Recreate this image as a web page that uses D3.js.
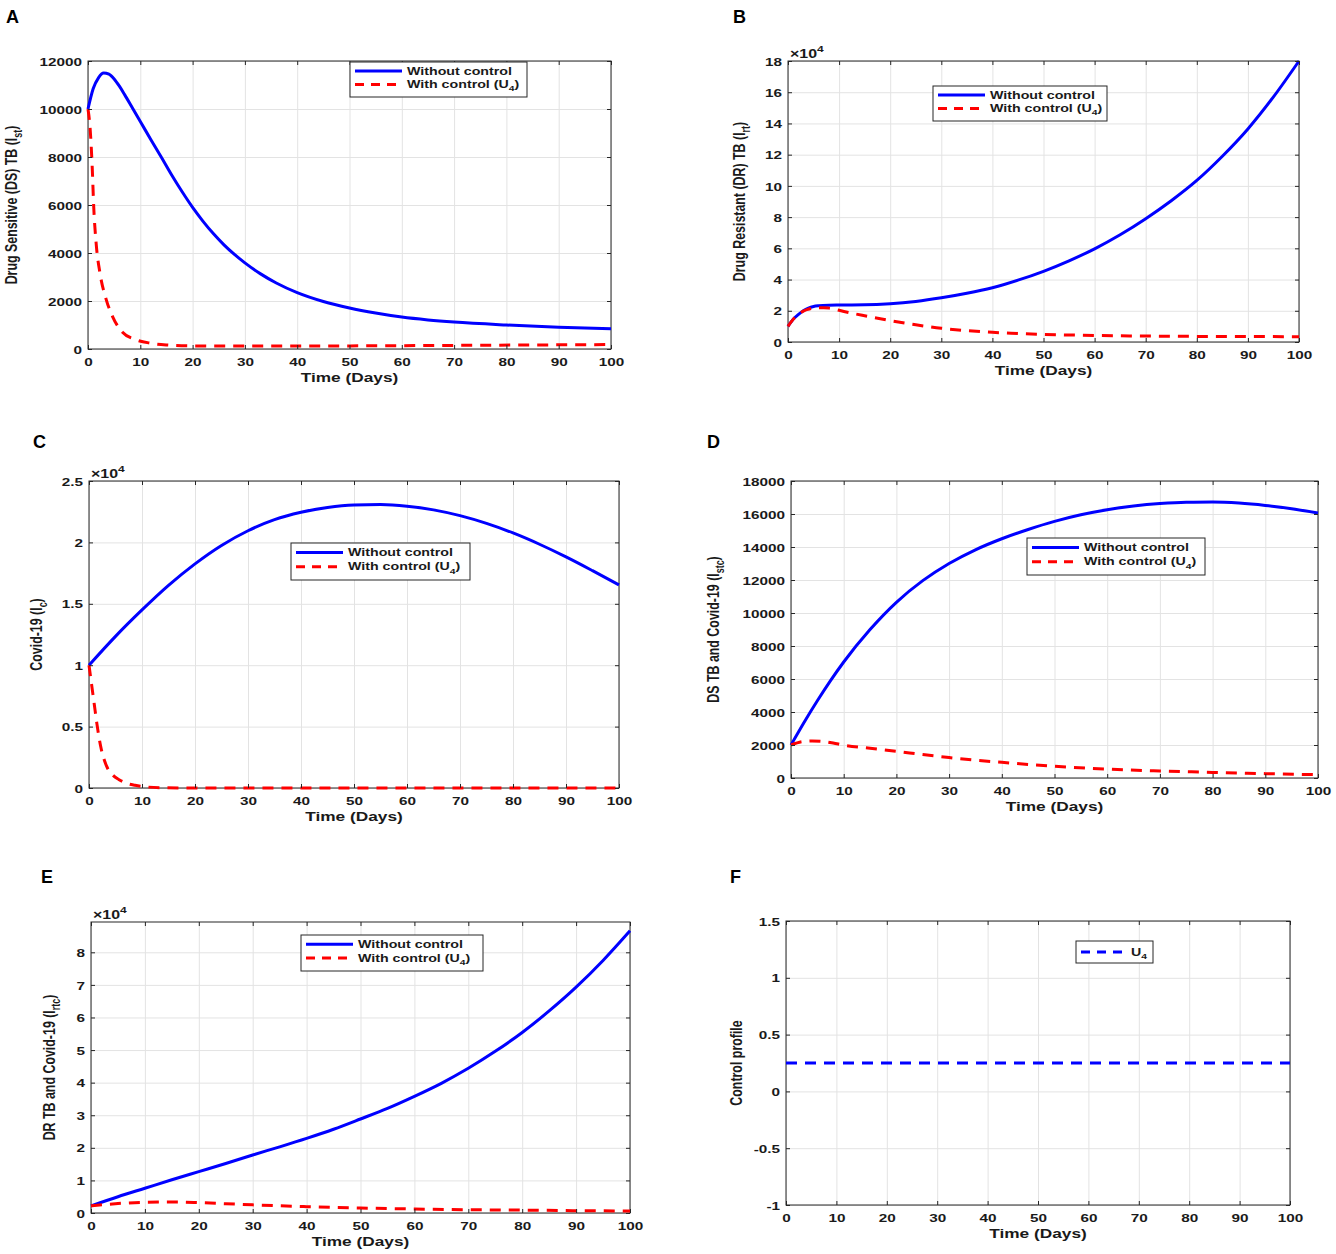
<!DOCTYPE html>
<html>
<head>
<meta charset="utf-8">
<script src="https://cdn.jsdelivr.net/npm/d3@7"></script>
<style>
  body { margin: 0; background: #fff; }
  text { font-family: "Liberation Sans", Arial, sans-serif; font-weight: bold; fill: #1a1a1a; }
</style>
</head>
<body>
<svg id="chart" width="1336" height="1254"></svg>
<script>
// time axis (days)
const dayTicks = [0, 10, 20, 30, 40, 50, 60, 70, 80, 90, 100];

// A: drug sensitive TB, I_st
const aTicks = [0, 2000, 4000, 6000, 8000, 10000, 12000];
const aWithout = [[0,10000],[1,10850],[2,11300],[3,11500],[4,11450],[5,11250],[6,10950],[7,10600],[8,10230],[9,9850],[10,9480],[12,8730],[14,8000],[16,7250],[18,6550],[20,5900],[22,5320],[24,4800],[26,4340],[28,3940],[30,3590],[33,3130],[36,2750],[40,2350],[45,1980],[50,1710],[55,1500],[60,1330],[65,1210],[70,1120],[80,1000],[90,910],[100,840]];
const aWith = [[0,10000],[0.4,9200],[0.8,7600],[1.1,5900],[1.6,4300],[2.3,3150],[3.5,2050],[4.7,1350],[6.6,700],[9,400],[12,240],[15,170],[20,130],[30,120],[50,130],[70,150],[100,185]];

// B: drug resistant TB, I_rt (x 10^4)
const bTicks = [0, 2, 4, 6, 8, 10, 12, 14, 16, 18];
const bWithout = [[0,1.0],[1,1.45],[2,1.75],[3,2.0],[4,2.17],[5,2.27],[6,2.32],[8,2.36],[10,2.37],[15,2.38],[20,2.45],[25,2.6],[30,2.83],[35,3.12],[40,3.48],[45,3.96],[50,4.53],[55,5.2],[60,5.97],[65,6.87],[70,7.9],[75,9.05],[80,10.35],[85,11.9],[90,13.65],[95,15.7],[100,18.0]];
const bWith = [[0,1.0],[1,1.45],[2,1.75],[3,1.98],[4,2.1],[5,2.18],[6,2.2],[7,2.2],[8,2.17],[10,2.03],[12,1.88],[15,1.68],[20,1.37],[25,1.1],[30,0.88],[35,0.73],[40,0.62],[45,0.55],[50,0.49],[60,0.42],[70,0.38],[80,0.36],[90,0.35],[100,0.34]];

// C: Covid-19, I_c (x 10^4)
const cTicks = [0, 0.5, 1, 1.5, 2, 2.5];
const cWithout = [[0,1.0],[5,1.235],[10,1.45],[15,1.65],[20,1.825],[25,1.975],[30,2.095],[35,2.185],[40,2.245],[45,2.285],[50,2.305],[55,2.308],[60,2.295],[65,2.265],[70,2.218],[75,2.155],[80,2.077],[85,1.985],[90,1.882],[95,1.77],[100,1.654]];
const cWith = [[0,1.0],[0.5,0.84],[1,0.68],[1.5,0.52],[2.2,0.34],[3.3,0.18],[4.5,0.105],[5.6,0.07],[7,0.04],[8.7,0.022],[11,0.008],[14,0.002],[20,0],[100,0]];

// D: DS TB and Covid-19, I_stc
const dTicks = [0, 2000, 4000, 6000, 8000, 10000, 12000, 14000, 16000, 18000];
const dWithout = [[0,2000],[2.5,3380],[5,4680],[7.5,5900],[10,7030],[15,9000],[20,10650],[25,11960],[30,13000],[35,13830],[40,14500],[45,15060],[50,15550],[55,15950],[60,16260],[65,16480],[70,16630],[75,16710],[80,16720],[85,16660],[90,16520],[95,16320],[100,16060]];
const dWith = [[0,2000],[2,2200],[4,2250],[6,2220],[8,2120],[10,1990],[15,1800],[20,1620],[25,1420],[30,1240],[35,1080],[40,950],[45,820],[50,710],[60,540],[70,425],[80,340],[90,265],[100,200]];

// E: DR TB and Covid-19, I_rtc (x 10^4)
const eTicks = [0, 1, 2, 3, 4, 5, 6, 7, 8];
const eWithout = [[0,0.22],[5,0.5],[10,0.76],[15,1.02],[20,1.27],[25,1.52],[30,1.78],[35,2.03],[40,2.29],[45,2.57],[50,2.885],[55,3.21],[60,3.58],[65,3.98],[70,4.44],[75,4.96],[80,5.54],[85,6.2],[90,6.93],[95,7.75],[100,8.66]];
const eWith = [[0,0.22],[5,0.29],[10,0.33],[15,0.34],[20,0.32],[25,0.285],[30,0.25],[35,0.22],[40,0.195],[45,0.17],[50,0.153],[60,0.123],[70,0.10],[80,0.088],[90,0.072],[100,0.06]];

// F: control profile U4
const fTicks = [-1, -0.5, 0, 0.5, 1, 1.5];
const fControl = [[0,0.25],[100,0.25]];

const BLUE = "#0000ff", RED = "#ff0000";
const SX = 1.33; // the figure is stretched sideways, text with it

const panels = [
  { letter: "A", lx: 6, ly: 23, left: 88, right: 611, top: 61, bottom: 349, yDomain: [0, 12000], yTicks: aTicks,
    ylabel: ["Drug Sensitive (DS) TB (I", "st", ")"], ylabOff: 71, exponent: false,
    legend: { x: 350, y: 62, w: 177, h: 35 },
    series: [{ data: aWithout, color: BLUE, label: ["Without control"] },
             { data: aWith, color: RED, dash: true, label: ["With control (U", "4", ")"] }] },
  { letter: "B", lx: 733, ly: 23, left: 788, right: 1299, top: 61, bottom: 342, yDomain: [0, 18], yTicks: bTicks,
    ylabel: ["Drug Resistant (DR) TB (I", "rt", ")"], ylabOff: 43, exponent: true,
    legend: { x: 933, y: 86, w: 174, h: 35 },
    series: [{ data: bWithout, color: BLUE, label: ["Without control"] },
             { data: bWith, color: RED, dash: true, label: ["With control (U", "4", ")"] }] },
  { letter: "C", lx: 33, ly: 448, left: 89, right: 619, top: 481, bottom: 788, yDomain: [0, 2.5], yTicks: cTicks,
    ylabel: ["Covid-19 (I", "c", ")"], ylabOff: 47, exponent: true,
    legend: { x: 291, y: 543, w: 179, h: 37 },
    series: [{ data: cWithout, color: BLUE, label: ["Without control"] },
             { data: cWith, color: RED, dash: true, label: ["With control (U", "4", ")"] }] },
  { letter: "D", lx: 707, ly: 448, left: 791, right: 1318, top: 481, bottom: 778, yDomain: [0, 18000], yTicks: dTicks,
    ylabel: ["DS TB and Covid-19 (I", "stc", ")"], ylabOff: 72, exponent: false,
    legend: { x: 1027, y: 538, w: 178, h: 37 },
    series: [{ data: dWithout, color: BLUE, label: ["Without control"] },
             { data: dWith, color: RED, dash: true, label: ["With control (U", "4", ")"] }] },
  { letter: "E", lx: 41, ly: 883, left: 91, right: 630, top: 922, bottom: 1213, yDomain: [0, 8.93], yTicks: eTicks,
    ylabel: ["DR TB and Covid-19 (I", "rtc", ")"], ylabOff: 36, exponent: true,
    legend: { x: 301, y: 935, w: 182, h: 36 },
    series: [{ data: eWithout, color: BLUE, label: ["Without control"] },
             { data: eWith, color: RED, dash: true, label: ["With control (U", "4", ")"] }] },
  { letter: "F", lx: 730, ly: 883, left: 786, right: 1290, top: 921, bottom: 1205, yDomain: [-1, 1.5], yTicks: fTicks,
    ylabel: ["Control profile"], ylabOff: 44, exponent: false,
    legend: { x: 1076, y: 941, w: 77, h: 22, textOff: 55 },
    series: [{ data: fControl, color: BLUE, dash: true, label: ["U", "4", ""] }] }
];

const svg = d3.select("#chart");
svg.append("rect").attr("width", 1336).attr("height", 1254).attr("fill", "#fff");

// text with a lowered small part: [main, sub, rest]
function fillParts(t, parts, size) {
  t.append("tspan").text(parts[0]);
  if (parts.length > 1) {
    t.append("tspan").attr("dy", size * 0.3).style("font-size", (size * 0.72) + "px").text(parts[1]);
    t.append("tspan").attr("dy", -size * 0.3).text(parts[2]);
  }
}

function wideText(g, x, y, anchor, size, extra, sx) {
  return g.append("text")
    .attr("transform", `translate(${x},${y}) scale(${sx || SX},1)` + (extra || ""))
    .attr("text-anchor", anchor)
    .style("font-size", size + "px");
}

function drawPanel(p) {
  const x = d3.scaleLinear().domain([0, 100]).range([p.left, p.right]);
  const y = d3.scaleLinear().domain(p.yDomain).range([p.bottom, p.top]);
  const w = p.right - p.left, h = p.bottom - p.top;
  const g = svg.append("g");

  // grid
  g.append("g").attr("class", "grid").attr("transform", `translate(0,${p.bottom})`)
    .call(d3.axisBottom(x).tickValues(dayTicks).tickSize(-h).tickFormat(""));
  g.append("g").attr("class", "grid").attr("transform", `translate(${p.left},0)`)
    .call(d3.axisLeft(y).tickValues(p.yTicks).tickSize(-w).tickFormat(""));
  g.selectAll(".grid .domain").remove();
  g.selectAll(".grid line").attr("stroke", "#e3e3e3");

  g.append("rect").attr("x", p.left).attr("y", p.top).attr("width", w).attr("height", h)
    .attr("fill", "none").attr("stroke", "#262626");

  const line = d3.line().x(d => x(d[0])).y(d => y(d[1])).curve(d3.curveMonotoneX);
  p.series.forEach(s => {
    g.append("path").datum(s.data).attr("d", line)
      .attr("fill", "none").attr("stroke", s.color).attr("stroke-width", 3)
      .attr("stroke-dasharray", s.dash ? "11,8" : null);
  });

  // inward ticks on all four sides
  const bottomAx = g.append("g").attr("transform", `translate(0,${p.bottom})`)
    .call(d3.axisBottom(x).tickValues(dayTicks).tickSizeInner(-4).tickSizeOuter(0).tickFormat(d => String(d)));
  bottomAx.selectAll("text").attr("y", null).attr("dy", null)
    .attr("transform", `translate(0,16.5) scale(${SX},1)`).style("font-size", "11.5px");
  const leftAx = g.append("g").attr("transform", `translate(${p.left},0)`)
    .call(d3.axisLeft(y).tickValues(p.yTicks).tickSizeInner(-4).tickSizeOuter(0).tickFormat(d => String(d)));
  leftAx.selectAll("text").attr("x", null).attr("dy", "0.36em")
    .attr("transform", `translate(-6,0) scale(${SX},1)`).style("font-size", "11.5px");
  g.append("g").attr("transform", `translate(0,${p.top})`)
    .call(d3.axisTop(x).tickValues(dayTicks).tickSizeInner(-4).tickSizeOuter(0).tickFormat(""));
  g.append("g").attr("transform", `translate(${p.right},0)`)
    .call(d3.axisRight(y).tickValues(p.yTicks).tickSizeInner(-4).tickSizeOuter(0).tickFormat(""));
  g.selectAll(".domain").remove();
  g.selectAll("g.tick line").filter(function () { return !this.closest(".grid"); }).attr("stroke", "#262626");

  // axis titles
  wideText(g, (p.left + p.right) / 2, p.bottom + 33, "middle", 13).text("Time (Days)");
  const yl = wideText(g, p.left - p.ylabOff, (p.top + p.bottom) / 2, "middle", 12.4, " rotate(-90)", 1.4);
  fillParts(yl, p.ylabel, 12.4);

  if (p.exponent) {
    const ex = wideText(g, p.left + 2, p.top - 3, "start", 12);
    ex.append("tspan").text("\u00d710");
    ex.append("tspan").attr("dy", -6).style("font-size", "9px").text("4");
  }

  // legend
  const L = p.legend;
  g.append("rect").attr("x", L.x).attr("y", L.y).attr("width", L.w).attr("height", L.h)
    .attr("fill", "#fff").attr("stroke", "#262626");
  p.series.forEach((s, i) => {
    const cy = p.series.length === 1 ? L.y + L.h / 2 : L.y + [0.26, 0.64][i] * L.h;
    g.append("line").attr("x1", L.x + 5).attr("x2", L.x + 52).attr("y1", cy).attr("y2", cy)
      .attr("stroke", s.color).attr("stroke-width", 3)
      .attr("stroke-dasharray", s.dash ? "9,7" : null);
    const t = wideText(g, L.x + (L.textOff || 57), cy + 3.8, "start", 10.7);
    fillParts(t, s.label, 10.7);
  });

  svg.append("text").attr("x", p.lx).attr("y", p.ly).style("font-size", "18px")
    .style("fill", "#000").text(p.letter);
}

panels.forEach(drawPanel);
</script>
</body>
</html>
